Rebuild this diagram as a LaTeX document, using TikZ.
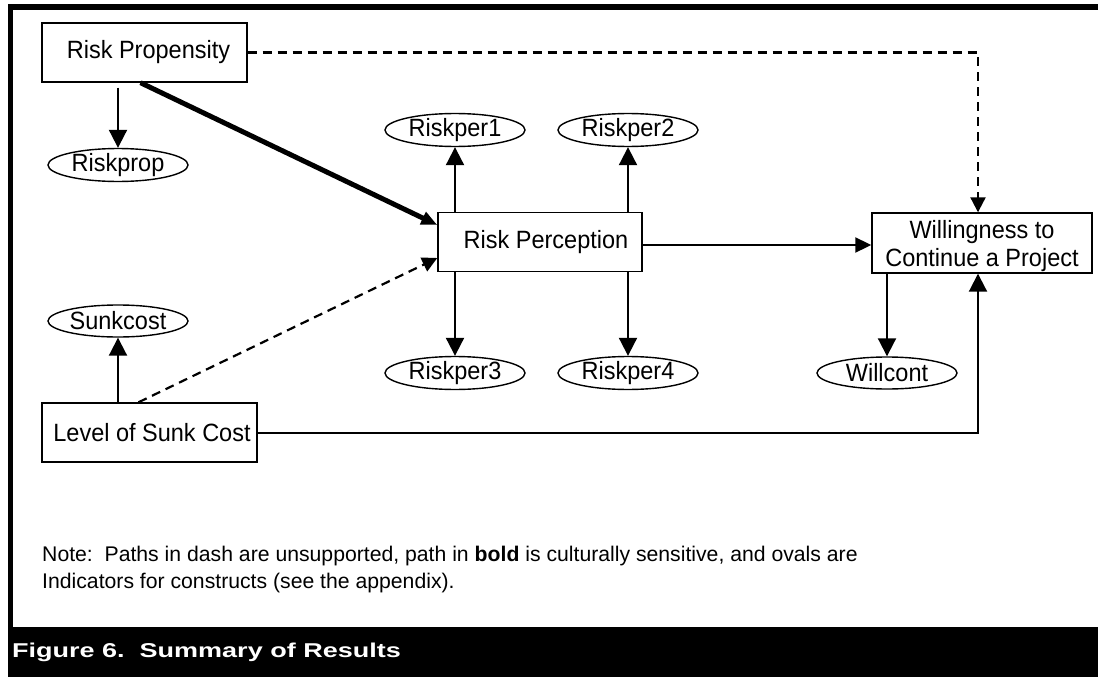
\documentclass[tikz,border=0pt]{standalone}
\usepackage{fontspec}
\setmainfont{Liberation Sans}
\newfontfamily\capfont[FakeStretch=1.35]{Liberation Sans}
\newfontfamily\boxfont[FakeStretch=0.94]{Liberation Sans}
\usetikzlibrary{arrows.meta,shapes.geometric}
\begin{document}
\begin{tikzpicture}[x=1pt,y=-1pt,
  >={Triangle[length=18pt,width=18pt]},
  box/.style={rectangle,draw=black,line width=1.4pt,fill=white,inner sep=0pt,minimum height=59pt,font=\boxfont\fontsize{25}{28}\selectfont},
  oval/.style={ellipse,draw=black,line width=1.4pt,inner sep=0pt,minimum width=140pt,minimum height=32pt,font=\boxfont\fontsize{25}{28}\selectfont},
  arr/.style={->,line width=2pt},
  dasharr/.style={->,line width=2.2pt,dash pattern=on 9pt off 6pt,>={Triangle[length=15pt,width=15pt]}}]
\useasboundingbox (0,0) rectangle (1098,677);
% frame and caption bar
\fill (8,4) rectangle (1098,10);
\fill (8,4) rectangle (13,627);
\fill (8,627) rectangle (1098,677);

\node (prop) at (144.5,52.5)[box,minimum width=205pt]{\hspace{8pt}Risk Propensity};
\node (perc) at (540,242)[box,minimum width=204pt]{\hspace{12pt}Risk Perception};
\node (will) at (982,243)[box,minimum width=220pt,minimum height=60pt,align=center,text depth=0pt]{Willingness to\\Continue a Project};
\node (sunk) at (149.5,432.5)[box,minimum width=215pt]{\hspace{5pt}Level of Sunk Cost};

\node (rprop) at (118,165)[oval]{Riskprop};
\node (rper1) at (455,130)[oval]{Riskper1};
\node (rper2) at (628,130)[oval]{Riskper2};
\node (rper3) at (455,373)[oval]{Riskper3};
\node (rper4) at (628,373)[oval]{Riskper4};
\node (wcont) at (887,373)[oval]{Willcont};
\node (scost) at (118,321)[oval]{Sunkcost};

\draw[arr]([yshift=-5pt]prop.south -| rprop.north)--(rprop.north);
\draw[->,line width=5pt,>={Triangle[length=16pt,width=13pt]}]([xshift=-4pt]prop.south)--([yshift=17pt]perc.west);
\draw[dasharr]([xshift=-11pt]sunk.north)--([yshift=-16pt]perc.west);
\draw[dasharr](prop.east)-|([xshift=-4pt]will.north);
\draw[arr](sunk.north -| scost.south)--(scost.south);
\draw[arr](perc.north -| rper1.south)--(rper1.south);
\draw[arr](perc.north -| rper2.south)--(rper2.south);
\draw[arr](perc.south -| rper3.north)--(rper3.north);
\draw[arr](perc.south -| rper4.north)--(rper4.north);
\draw[arr,>={Triangle[length=16pt,width=15pt]}]([yshift=-3pt]perc.east)--([yshift=-3pt]perc.east -| will.west);
\draw[arr](will.south -| wcont.north)--(wcont.north);
\draw[arr](sunk.east)-|([xshift=-4pt]will.south);

\node (note) at (42,570)[anchor=west,align=left,inner sep=0pt,font=\fontsize{21.2}{27}\selectfont]{Note:\ \ Paths in dash are unsupported, path in \textbf{bold} is culturally sensitive, and ovals are\\Indicators for constructs (see the appendix).};
\node (cap) at (12,652)[anchor=west,inner sep=0pt,text=white,font=\capfont\bfseries\fontsize{20}{24}\selectfont]{Figure 6.\ \ Summary of Results};
\end{tikzpicture}
\end{document}
